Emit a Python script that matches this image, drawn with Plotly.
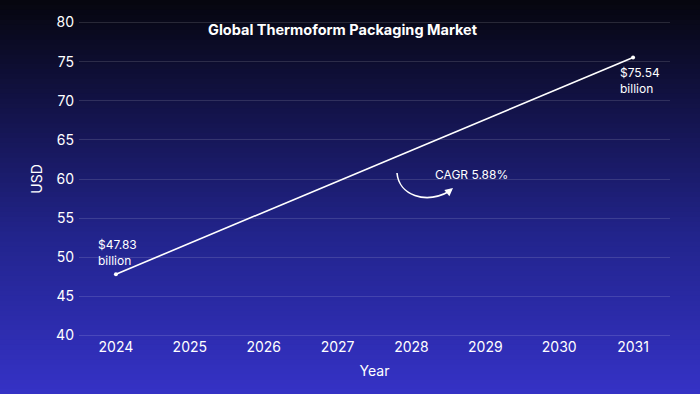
import plotly.graph_objects as go

years = [2024, 2031]
values = [47.83, 75.54]
x_ticks = [2024, 2025, 2026, 2027, 2028, 2029, 2030, 2031]
y_ticks = [40, 45, 50, 55, 60, 65, 70, 75, 80]

W, H = 700, 394
ml, mr, mt, mb = 79, 30, 21, 57
pw, ph = W - ml - mr, H - mt - mb
ymin, ymax = 39.8, 80.2
xmin, xmax = 2023.5, 2031.5

fig = go.Figure()
fig.add_trace(go.Scatter(
    x=years, y=values, mode="lines+markers",
    line=dict(color="white", width=1.6),
    marker=dict(color="white", size=4),
    hoverinfo="skip", showlegend=False))

# gradient background
stops = [(0.0, (6, 6, 14)), (0.3, (20, 20, 78)), (0.6, (34, 36, 140)), (1.0, (53, 50, 198))]
def col(t):
    for (a, ca), (b, cb) in zip(stops[:-1], stops[1:]):
        if a <= t <= b:
            f = (t - a) / (b - a)
            return "rgb(%d,%d,%d)" % tuple(round(ca[i] + (cb[i] - ca[i]) * f) for i in range(3))
    return "rgb(%d,%d,%d)" % stops[-1][1]

N = 80
shapes = []
for i in range(N):
    py0 = H * i / N
    py1 = H * (i + 1) / N + 0.8
    t = (i + 0.5) / N
    shapes.append(dict(type="rect", xref="paper", yref="paper",
                       x0=-ml / pw - 0.01, x1=1 + mr / pw + 0.01,
                       y0=(H - mb - py1) / ph, y1=(H - mb - py0) / ph,
                       fillcolor=col(t), line=dict(width=0), layer="below"))

# curved arrow (data coords)
def px2x(px):
    return xmin + (px - ml) / pw * (xmax - xmin)
def py2y(py):
    return ymin + (H - mb - py) / ph * (ymax - ymin)

p0 = (397, 173)
c1 = (399, 195)
c2 = (425, 205)
p1 = (450, 191)
path = "M %f,%f C %f,%f %f,%f %f,%f" % (px2x(p0[0]), py2y(p0[1]), px2x(c1[0]), py2y(c1[1]),
                                        px2x(c2[0]), py2y(c2[1]), px2x(p1[0]), py2y(p1[1]))
shapes.append(dict(type="path", path=path, xref="x", yref="y",
                   line=dict(color="white", width=1.6)))

font = "Inter, Open Sans, sans-serif"
annotations = [
    dict(x=px2x(453), y=py2y(188), ax=-6, ay=5, text="", showarrow=True,
         arrowhead=2, arrowsize=1, arrowwidth=1.6, arrowcolor="white", xref="x", yref="y"),
    dict(x=px2x(433), y=py2y(174), text="CAGR 5.88%", showarrow=False, xanchor="left",
         yanchor="middle", font=dict(color="white", size=12, family=font)),
    dict(x=px2x(96), y=py2y(252), text="$47.83<br>billion", showarrow=False, xanchor="left",
         yanchor="middle", align="left", font=dict(color="white", size=12, family=font)),
    dict(x=px2x(618), y=py2y(80), text="$75.54<br>billion", showarrow=False, xanchor="left",
         yanchor="middle", align="left", font=dict(color="white", size=12, family=font)),
    dict(x=(343 - ml) / pw, y=(H - mb - 29) / ph, xref="paper", yref="paper",
         text="<b>Global Thermoform Packaging Market</b>",
         showarrow=False, xanchor="center", yanchor="middle",
         font=dict(color="white", size=14.5, family=font)),
]

fig.update_layout(
    width=W, height=H,
    margin=dict(l=ml, r=mr, t=mt, b=mb),
    paper_bgcolor="#0a0a20", plot_bgcolor="rgba(0,0,0,0)",
    font=dict(family=font, color="white", size=14),
    shapes=shapes, annotations=annotations,
    xaxis=dict(range=[xmin, xmax], tickvals=x_ticks, ticktext=[str(v) for v in x_ticks],
               showgrid=False, zeroline=False, showline=False,
               tickfont=dict(size=14, color="white"),
               title=dict(text="Year", font=dict(size=14, color="white"), standoff=12)),
    yaxis=dict(range=[ymin, ymax], tickvals=y_ticks, showgrid=True,
               gridcolor="rgba(255,255,255,0.13)", gridwidth=1, zeroline=False, showline=False,
               tickfont=dict(size=14, color="white"), ticklabelstandoff=4,
               title=dict(text="USD", font=dict(size=14, color="white"), standoff=10)),
)

fig.write_html("out.html", config={"displayModeBar": False},
               post_script="document.body.style.margin='0';document.body.style.overflow='hidden';")
